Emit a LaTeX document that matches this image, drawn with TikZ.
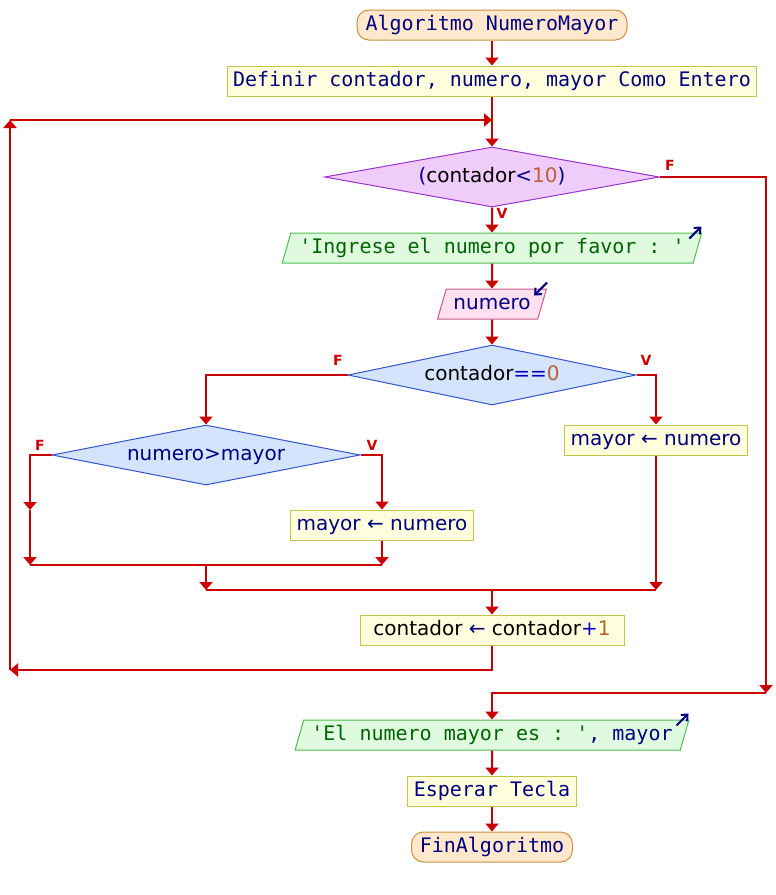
\documentclass[tikz,border=0pt]{standalone}
\usepackage{fontspec}
\setmonofont{DejaVu Sans Mono}
\setsansfont{DejaVu Sans}
\usepackage{xcolor}
\usetikzlibrary{positioning,shapes.geometric,arrows.meta}
\definecolor{kwc}{RGB}{0,0,128}
\definecolor{strc}{RGB}{0,100,0}
\definecolor{numc}{RGB}{190,96,48}
\definecolor{opc}{RGB}{0,0,200}
\definecolor{flowc}{RGB}{204,0,0}
\definecolor{termfill}{RGB}{255,232,204}
\definecolor{termdraw}{RGB}{204,144,64}
\definecolor{procfill}{RGB}{255,255,221}
\definecolor{procdraw}{RGB}{196,196,72}
\definecolor{loopfill}{RGB}{240,204,250}
\definecolor{loopdraw}{RGB}{153,51,204}
\definecolor{decfill}{RGB}{212,228,252}
\definecolor{decdraw}{RGB}{51,85,204}
\definecolor{outfill}{RGB}{224,250,224}
\definecolor{outdraw}{RGB}{80,190,80}
\definecolor{infill}{RGB}{255,224,240}
\definecolor{indraw}{RGB}{200,90,140}
\newcommand{\codesize}{\fontsize{20}{24}\selectfont}
\newcommand{\strtxt}[1]{\textcolor{strc}{#1}}
\newcommand{\numtxt}[1]{\textcolor{numc}{#1}}
\newcommand{\optxt}[1]{\textcolor{opc}{#1}}
\newcommand{\vartxt}[1]{\textcolor{black}{#1}}
\tikzset{
	base/.style = {text=kwc, text height=15pt, text depth=5pt, minimum height=30pt, inner xsep=6pt, inner ysep=0pt, line width=1pt},
	terminal/.style = {base, draw=termdraw, fill=termfill, rounded corners=12pt, font=\ttfamily\codesize},
	proc/.style = {base, draw=procdraw, fill=procfill, font=\ttfamily\codesize},
	procsans/.style = {proc, font=\sffamily\codesize},
	loopcond/.style = {base, diamond, aspect=6, inner sep=0pt, draw=loopdraw, fill=loopfill, minimum height=60pt, font=\sffamily\codesize},
	decision/.style = {loopcond, draw=decdraw, fill=decfill},
	outbox/.style = {base, trapezium, trapezium left angle=67, trapezium right angle=113, trapezium stretches=true, draw=outdraw, fill=outfill, font=\ttfamily\codesize},
	inbox/.style = {outbox, draw=indraw, fill=infill, font=\sffamily\codesize},
	flowline/.style = {draw=flowc, line width=2pt},
	flow/.style = {flowline, -{Triangle[width=13pt,length=8pt]}},
	icon/.style = {draw=kwc, line width=2pt, -{Straight Barb[length=5pt,width=9pt]}},
	lbl/.style = {text=flowc, inner sep=0pt, font=\sffamily\bfseries\fontsize{14}{16}\selectfont}
}
\begin{document}
\begin{tikzpicture}[x=1pt, y=-1pt]
	\useasboundingbox (0,0) rectangle (776,895);
	
	\node [terminal, minimum width=270pt] (start) at (492,25) {Algoritmo NumeroMayor};
	\node [proc, minimum width=527pt, below=25pt of start] (defs) {Definir contador, numero, mayor Como Entero};
	\node [loopcond, minimum width=335pt, below=50pt of defs] (cond) {(\vartxt{contador}<\numtxt{10})};
	\node [outbox, minimum width=420pt, below=25pt of cond] (ask) {\strtxt{'Ingrese el numero por favor : '}};
	\node [inbox, minimum width=109pt, below=25pt of ask] (read) {numero};
	\node [decision, minimum width=288pt, below=25pt of read] (first) {\vartxt{contador}\optxt{==}\numtxt{0}};
	\node [decision, minimum width=308pt] (cmp) at (206,455) {numero>mayor};
	\node [procsans, minimum width=180pt] (setr) at (656,440) {mayor ← numero};
	\node [procsans, minimum width=180pt] (setl) at (382,525) {mayor ← numero};
	\node [procsans, minimum width=264pt] (inc) at (492,630) {\vartxt{contador} ← \vartxt{contador}\optxt{+}\numtxt{1}};
	\node [outbox, minimum width=396pt] (show) at (492,735) {\strtxt{'El numero mayor es : '}, mayor};
	\node [proc, minimum width=168pt, below=25pt of show] (wait) {Esperar Tecla};
	\node [terminal, minimum width=161pt, below=25pt of wait] (stop) {FinAlgoritmo};
	
	\node [lbl] (fmain) at (670,165) {F};
	\node [lbl] (vmain) at (502,213) {V};
	\node [lbl] (ffirst) at (338,360) {F};
	\node [lbl] (vfirst) at (646,360) {V};
	\node [lbl] (fcmp) at (40,445) {F};
	\node [lbl] (vcmp) at (372,445) {V};
	
	\coordinate (loopbl) at (10,670);
	\coordinate (looptl) at (10,120);
	\coordinate (loopin) at (492,120);
	\coordinate (exitc) at (766,693);
	\coordinate (nol) at (30,510);
	\coordinate (nolend) at (30,565);
	\coordinate (yesend) at (setl |- nolend);
	\coordinate (innerjoin) at (cmp |- nolend);
	\coordinate (rightend) at (656,590);
	\coordinate (outerjoin) at (cmp |- rightend);
	\coordinate (join) at (inc |- rightend);
	
	\draw [flow] (start) -- (defs);
	\draw [flow] (defs) -- (cond);
	\draw [flow] (cond) -- (ask);
	\draw [flow] (ask) -- (read);
	\draw [flow] (read) -- (first);
	\draw [flow] (first.west) -| (cmp.north);
	\draw [flow] (first.east) -| (setr.north);
	\draw [flow] (cmp.west) -| (nol);
	\draw [flow] (nol) -- (nolend);
	\draw [flow] (cmp.east) -| (setl.north);
	\draw [flow] (setl) -- (yesend);
	\draw [flowline] (nolend) -- (yesend);
	\draw [flow] (innerjoin) -- (outerjoin);
	\draw [flow] (setr) -- (rightend);
	\draw [flowline] (outerjoin) -- (rightend);
	\draw [flow] (join) -- (inc);
	\draw [flow] (inc.south) |- (loopbl);
	\draw [flow] (loopbl) -- (looptl);
	\draw [flow] (looptl) -- (loopin);
	\draw [flow] (cond.east) -| (exitc);
	\draw [flow] (exitc) -| (show.north);
	\draw [flow] (show) -- (wait);
	\draw [flow] (wait) -- (stop);
	
	\draw [icon] ([shift={(-13,6)}]ask.top right corner) -- ++(12,-12);
	\draw [icon] ([shift={(0,-6)}]read.top right corner) -- ++(-13,13);
	\draw [icon] ([shift={(-13,6)}]show.top right corner) -- ++(12,-12);
\end{tikzpicture}
\end{document}
